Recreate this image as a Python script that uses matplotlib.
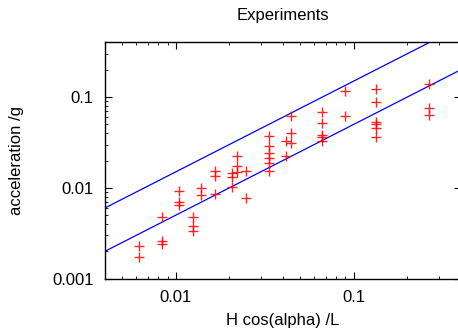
import numpy as np
import matplotlib
matplotlib.use("Agg")
import matplotlib.pyplot as plt
from matplotlib.ticker import FuncFormatter, NullFormatter, LogLocator

plt.rcParams['font.family'] = ['Liberation Sans', 'DejaVu Sans']

# measured points: H cos(alpha)/L  vs  acceleration/g
h_over_l = [0.00625, 0.00625,
            0.00833, 0.00833, 0.00833,
            0.0104, 0.0104, 0.0104,
            0.0125, 0.0125, 0.0125,
            0.0139, 0.0139,
            0.0167, 0.0167, 0.0167,
            0.0207, 0.0207, 0.0207,
            0.0222, 0.0222, 0.0222,
            0.025, 0.025,
            0.0333, 0.0333, 0.0333, 0.0333, 0.0333, 0.0333,
            0.0417, 0.0417,
            0.0447, 0.0447, 0.0447,
            0.0667, 0.0667, 0.0667, 0.0667, 0.0667,
            0.0889, 0.0889,
            0.1333, 0.1333, 0.1333, 0.1333, 0.1333, 0.1333,
            0.2667, 0.2667, 0.2667]
accel = [0.00227, 0.00173,
         0.00262, 0.00243, 0.00474,
         0.00927, 0.00697, 0.00643,
         0.00474, 0.00382, 0.00331,
         0.00992, 0.00834,
         0.01537, 0.01365, 0.00855,
         0.0145, 0.0131, 0.01033,
         0.0225, 0.0175, 0.0151,
         0.0155, 0.0077,
         0.0373, 0.0289, 0.0241, 0.0212, 0.0187, 0.0155,
         0.0326, 0.0223,
         0.0623, 0.0399, 0.031,
         0.0689, 0.0514, 0.0383, 0.0361, 0.0331,
         0.1172, 0.0618,
         0.123, 0.0881, 0.0535, 0.0503, 0.0458, 0.0363,
         0.139, 0.0763, 0.0631]

# bounding lines a = k * x
line_k = [1.5, 0.5]
line_x = [0.004, 0.4]

fig = plt.figure(figsize=(4.58, 3.29), dpi=100)
ax = fig.add_axes([0.229, 0.153, 0.777, 0.718])

for k in line_k:
    ax.plot(line_x, [k * v for v in line_x], color='blue', lw=0.9)
ax.plot(h_over_l, accel, '+', color='red', ms=7, mew=1.0, alpha=0.85)

ax.set_xscale('log')
ax.set_yscale('log')
ax.set_xlim(0.004, 0.4)
ax.set_ylim(0.001, 0.4)

fmt = FuncFormatter(lambda v, _: f'{v:g}')
ax.xaxis.set_major_formatter(fmt)
ax.yaxis.set_major_formatter(fmt)
ax.xaxis.set_minor_formatter(NullFormatter())
ax.yaxis.set_minor_formatter(NullFormatter())
ax.xaxis.set_minor_locator(LogLocator(subs=np.arange(2, 10)))
ax.yaxis.set_minor_locator(LogLocator(subs=np.arange(2, 10)))

ax.tick_params(which='both', direction='in', top=True, right=True, labelsize=12)
ax.tick_params(which='major', length=5, width=0.8, pad=8)
ax.tick_params(which='minor', length=2.5, width=0.6)
for s in ax.spines.values():
    s.set_linewidth(1.0)

ax.set_title('Experiments', fontsize=12, pad=16)
ax.set_xlabel('H cos(alpha) /L', fontsize=12, labelpad=6)
ax.set_ylabel('acceleration /g', fontsize=12, labelpad=20)

fig.savefig('out.png', dpi=100)
